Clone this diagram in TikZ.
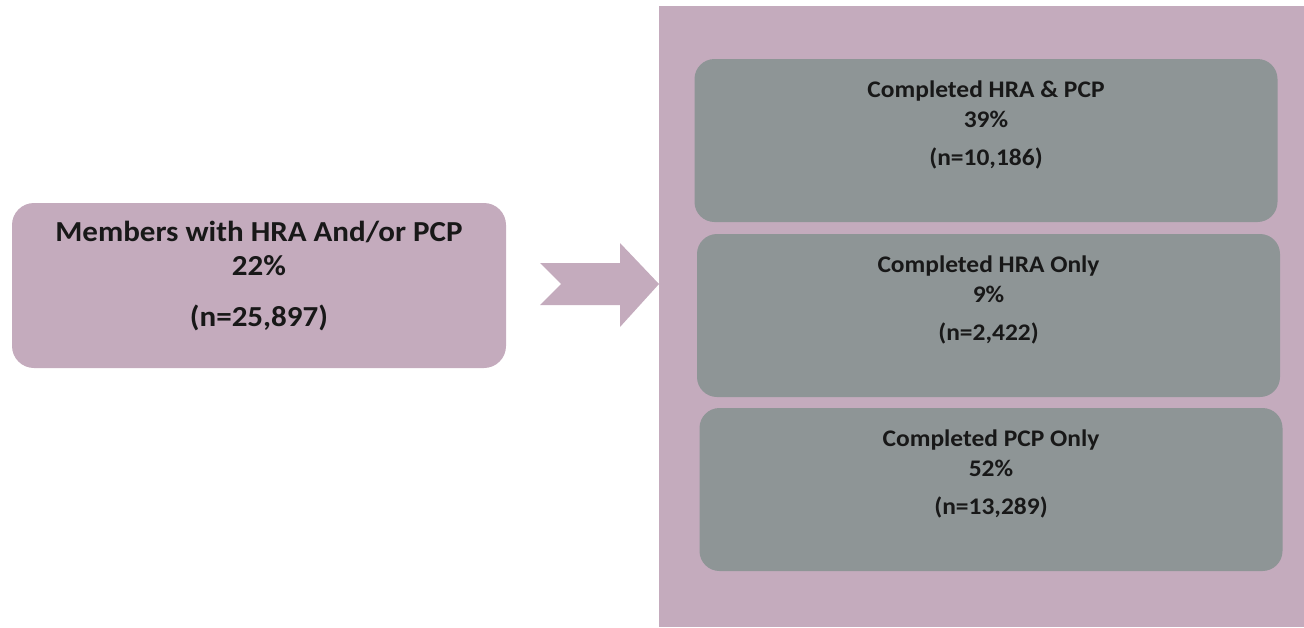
\documentclass[tikz,border=0pt]{standalone}
\usepackage{fontspec}
\setmainfont{Carlito}[FakeStretch=1.07]
\definecolor{mauve}{RGB}{196,171,189}
\definecolor{slate}{RGB}{142,149,150}
\definecolor{ink}{RGB}{24,24,24}
\begin{document}
\begin{tikzpicture}[x=1pt,y=-1pt,
  panel/.style={fill=mauve,draw=none},
  bigbox/.style={fill=mauve,draw=none,rounded corners=22pt,inner sep=0pt,
                 minimum width=494pt,minimum height=165pt},
  subbox/.style={fill=slate,draw=none,rounded corners=20pt,inner sep=0pt,
                 minimum width=583pt,minimum height=163pt},
  bigtxt/.style={anchor=base,inner sep=0pt,text=ink,font=\fontsize{29}{34}\selectfont\bfseries},
  subtxt/.style={anchor=base,inner sep=0pt,text=ink,font=\fontsize{23.8}{28}\selectfont\bfseries}]
\useasboundingbox (0,0) rectangle (1304,627);

% right-hand panel holding the three breakdown boxes
\path[panel] (659,6) rectangle (1304,627);

% summary box
\node[bigbox] (members) at (259,285.5) {};
\node[bigtxt] (mTitle) at ([yshift=-38.5pt]members.north) {Members with HRA And/or PCP};
\node[bigtxt] (mPct)   at ([yshift=-72.5pt]members.north) {22\%};
\node[bigtxt] (mN)     at ([yshift=-123.5pt]members.north) {(n=25,897)};

% breakdown boxes
\node[subbox] (both) at (986,140.5) {};
\node[subbox] (hra)  at (988.5,315.5) {};
\node[subbox] (pcp)  at (991,489.5) {};

\foreach \b/\t/\p/\n in {both/Completed HRA \& PCP/39\%/(n=10{,}186),
                         hra/Completed HRA Only/9\%/(n=2{,}422),
                         pcp/Completed PCP Only/52\%/(n=13{,}289)}{
  \node[subtxt] (\b-t) at ([yshift=-39pt]\b.north) {\t};
  \node[subtxt] (\b-p) at ([yshift=-69pt]\b.north) {\p};
  \node[subtxt] (\b-n) at ([yshift=-107pt]\b.north) {\n};
}

% notched block arrow pointing into the panel
\coordinate (tip) at (659,284);
\fill[mauve] (540,263) -- (620,263) -- (620,243) -- (tip) -- (620,327)
  -- (620,305) -- (540,305) -- (561,284) -- cycle;
\end{tikzpicture}
\end{document}
